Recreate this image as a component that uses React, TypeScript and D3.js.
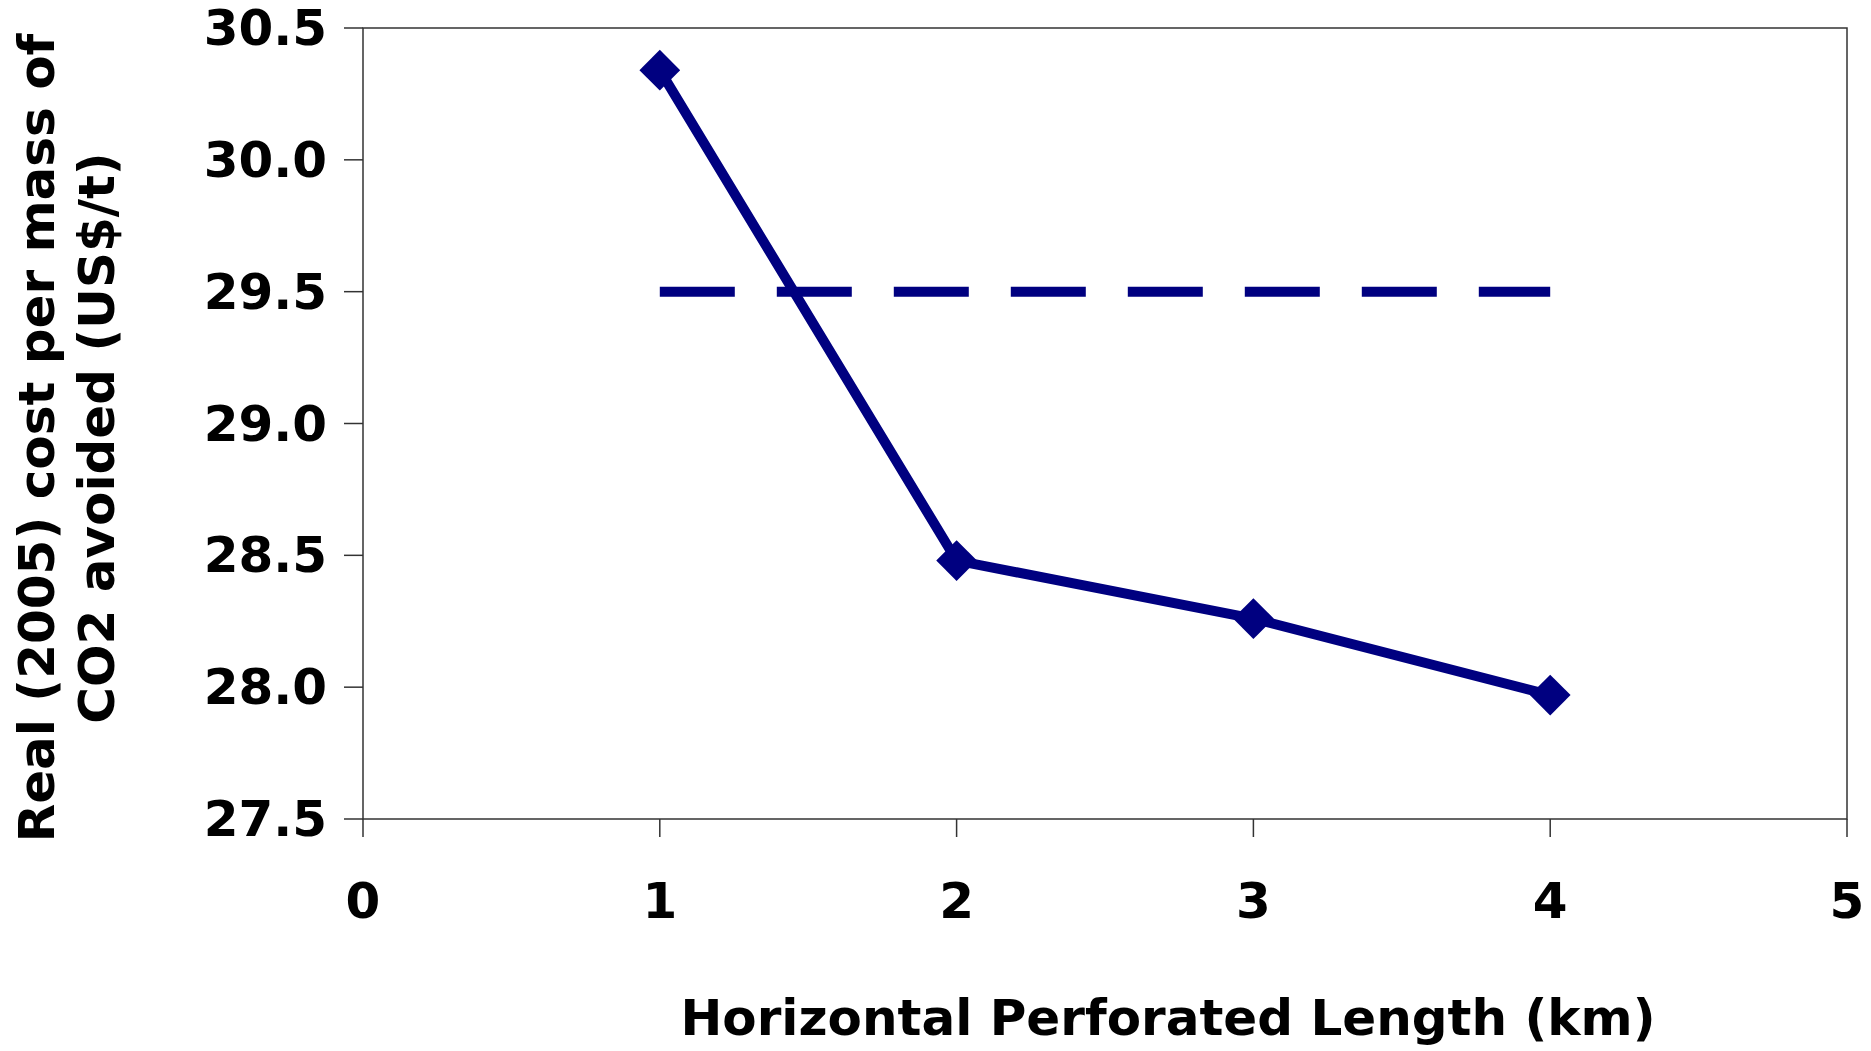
import { useMemo } from 'react';
import * as d3 from 'd3';

const lengths = [1, 2, 3, 4];
const costs = [30.34, 28.48, 28.26, 27.97];
const refLineX = [1, 4];
const refLineValue = 29.5;
const xTicks = [0, 1, 2, 3, 4, 5];
const yTicks = [27.5, 28.0, 28.5, 29.0, 29.5, 30.0, 30.5];

const NAVY = '#000080';
const AXIS = '#333';
const FONT = '"DejaVu Sans", Verdana, sans-serif';

export default function App() {
  const width = 1871;
  const height = 1051;
  const m = { left: 363, right: 1847, top: 28, bottom: 819 };

  const x = d3.scaleLinear().domain([0, 5]).range([m.left, m.right]);
  const y = d3.scaleLinear().domain([27.5, 30.5]).range([m.bottom, m.top]);

  const linePath = useMemo(
    () =>
      d3
        .line<number>()
        .x((_, i) => x(lengths[i]))
        .y((d) => y(d))(costs),
    [],
  );

  const diamond = d3.symbol(d3.symbolDiamond2, 1000)() ?? '';
  // symbolDiamond2 is a square rotated 45deg; scale it to a ~45px diagonal
  const dScale = 23 / Math.sqrt(1000 / 2);

  return (
    <svg
      width={width}
      height={height}
      viewBox={`0 0 ${width} ${height}`}
      style={{ position: 'absolute', left: 0, top: 0, background: '#fff' }}
    >
      <rect x={0} y={0} width={width} height={height} fill="#fff" />

      {/* plot frame */}
      <rect
        x={m.left}
        y={m.top}
        width={m.right - m.left}
        height={m.bottom - m.top}
        fill="none"
        stroke={AXIS}
        strokeWidth={1.5}
      />

      {yTicks.map((t) => (
        <g key={`y${t}`}>
          <line x1={m.left - 19} x2={m.left} y1={y(t)} y2={y(t)} stroke={AXIS} strokeWidth={1.5} />
          <text
            x={m.left - 36}
            y={y(t)}
            textAnchor="end"
            dominantBaseline="central"
            fontFamily={FONT}
            fontWeight={700}
            fontSize={50}
            fill="#000"
          >
            {t.toFixed(1)}
          </text>
        </g>
      ))}

      {xTicks.map((t) => (
        <g key={`x${t}`}>
          <line x1={x(t)} x2={x(t)} y1={m.bottom} y2={m.bottom + 18} stroke={AXIS} strokeWidth={1.5} />
          <text
            x={x(t)}
            y={901}
            textAnchor="middle"
            dominantBaseline="central"
            fontFamily={FONT}
            fontWeight={700}
            fontSize={50}
            fill="#000"
          >
            {t}
          </text>
        </g>
      ))}

      {/* reference line */}
      <line
        x1={x(refLineX[0])}
        x2={x(refLineX[1])}
        y1={y(refLineValue)}
        y2={y(refLineValue)}
        stroke={NAVY}
        strokeWidth={10}
        strokeDasharray="75 42"
      />

      <path d={linePath ?? undefined} fill="none" stroke={NAVY} strokeWidth={10} strokeLinejoin="miter" />

      {costs.map((c, i) => (
        <path
          key={i}
          d={diamond}
          transform={`translate(${x(lengths[i])},${y(c)}) scale(${dScale})`}
          fill={NAVY}
        />
      ))}

      {/* axis titles */}
      <text
        x={1168}
        y={1035}
        textAnchor="middle"
        fontFamily={FONT}
        fontWeight={700}
        fontSize={50}
        fill="#000"
      >
        Horizontal Perforated Length (km)
      </text>
      <g transform="translate(0,438) rotate(-90)">
        <text x={0} y={54} textAnchor="middle" fontFamily={FONT} fontWeight={700} fontSize={50} fill="#000">
          Real (2005) cost per mass of
        </text>
        <text x={0} y={114} textAnchor="middle" fontFamily={FONT} fontWeight={700} fontSize={50} fill="#000">
          CO2 avoided (US$/t)
        </text>
      </g>
    </svg>
  );
}
